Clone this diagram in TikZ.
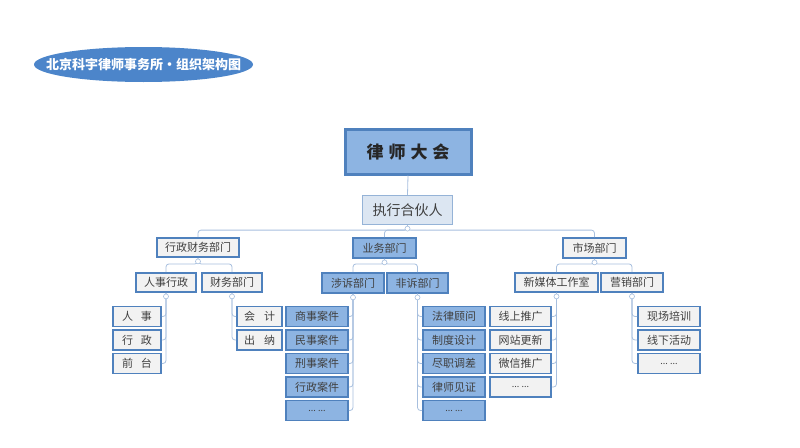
\documentclass[tikz,border=0pt]{standalone}
\usepackage{fontspec}
\setmainfont{Noto Sans CJK SC}
\usetikzlibrary{calc}
\definecolor{bluefill}{HTML}{8DB4E2}
\definecolor{blueline}{HTML}{4F81BD}
\definecolor{grayfill}{HTML}{F2F2F2}
\definecolor{lightfill}{HTML}{DCE6F2}
\definecolor{lightline}{HTML}{95B3D7}
\definecolor{connc}{HTML}{A7BFDE}
\definecolor{titlec}{HTML}{4C85CA}
\definecolor{txt}{HTML}{404040}
\newcommand{\mydots}{{\fontsize{9}{9}\selectfont ...\ ...}}
\begin{document}
\begin{tikzpicture}[x=1pt,y=-1pt,
  box/.style={draw=blueline,line width=1.8pt,inner sep=0pt,text=txt,font=\fontsize{11}{11}\selectfont,anchor=center},
  bbox/.style={box,fill=bluefill},
  gbox/.style={box,fill=grayfill},
  sz/.style 2 args={minimum width=#1,minimum height=#2},
  conn/.style={draw=connc,line width=0.8pt,rounded corners=3pt},
  jdot/.style={circle,draw=connc,fill=white,line width=0.6pt,inner sep=0pt,minimum size=5pt}]
\useasboundingbox (0,0) rectangle (800,447);

% title
\fill[titlec] (143.5,64.5) ellipse [x radius=109.5, y radius=17.5];
\node[text=white,font=\bfseries\fontsize{13}{13}\selectfont] (title) at (143.5,64.5) {北京科宇律师事务所•组织架构图};

% top levels
\node[box,fill=bluefill,line width=3pt,sz={126}{45},text=black!85,font=\bfseries\fontsize{17}{17}\selectfont] (lsdh) at (408,151.5) {律\hspace{5pt}师\hspace{5pt}大\hspace{5pt}会};
\node[box,fill=lightfill,draw=lightline,line width=1.2pt,sz={90}{29},font=\fontsize{14}{14}\selectfont] (zx) at (407.5,210) {执行合伙人};

% level 2
\node[gbox,sz={82}{19}] (xz) at (198,247.5) {行政财务部门};
\node[bbox,sz={63}{20}] (yw) at (384.5,248) {业务部门};
\node[gbox,sz={63}{20}] (sc) at (594.5,248) {市场部门};

% level 3
\node[gbox,sz={60}{19}] (rs) at (166,282.5) {人事行政};
\node[gbox,sz={60}{19}] (cw) at (232,282.5) {财务部门};
\node[bbox,sz={62}{20}] (ss) at (353,283) {涉诉部门};
\node[bbox,sz={61}{20}] (fs) at (417.5,283) {非诉部门};
\node[gbox,sz={83}{19}] (xm) at (556.5,282.5) {新媒体工作室};
\node[gbox,sz={62}{19}] (yx) at (632,282.5) {营销部门};

% connectors upper
\draw[conn] (lsdh.south) -- (zx.north);
\draw[conn] (zx.south) -- ++(0,5) -| (xz.north);
\draw[conn] (zx.south) -- ++(0,5) -| (yw.north);
\draw[conn] (zx.south) -- ++(0,5) -| (sc.north);
\draw[conn] (xz.south) -- ++(0,6) -| (rs.north);
\draw[conn] (xz.south) -- ++(0,6) -| (cw.north);
\draw[conn] (yw.south) -- ++(0,5) -| (ss.north);
\draw[conn] (yw.south) -- ++(0,5) -| (fs.north);
\draw[conn] (sc.south) -- ++(0,5) -| (xm.north);
\draw[conn] (sc.south) -- ++(0,5) -| (yx.north);

% level 4
\foreach \t [count=\i] in {人\hspace{8pt}事,行\hspace{8pt}政,前\hspace{8pt}台} {
  \node[gbox,sz={48}{20}] (a\i) at (137,{293+23.5*\i}) {\t};
  \draw[conn] (rs.south) |- (a\i.east);
}
\foreach \t [count=\i] in {会\hspace{9pt}计,出\hspace{9pt}纳} {
  \node[gbox,sz={45}{20}] (b\i) at (259.5,{293+23.5*\i}) {\t};
  \draw[conn] (cw.south) |- (b\i.west);
}
\foreach \t [count=\i] in {商事案件,民事案件,刑事案件,行政案件,\mydots} {
  \node[bbox,sz={62}{20}] (s\i) at (317,{293+23.5*\i}) {\t};
  \draw[conn] (ss.south) |- (s\i.east);
}
\foreach \t [count=\i] in {法律顾问,制度设计,尽职调差,律师见证,\mydots} {
  \node[bbox,sz={62}{20}] (f\i) at (454,{293+23.5*\i}) {\t};
  \draw[conn] (fs.south) |- (f\i.west);
}
\foreach \t [count=\i] in {线上推广,网站更新,微信推广,\mydots} {
  \node[gbox,sz={61}{20}] (m\i) at (520.5,{293+23.5*\i}) {\t};
  \draw[conn] (xm.south) |- (m\i.east);
}
\foreach \t [count=\i] in {现场培训,线下活动,\mydots} {
  \node[gbox,sz={62}{20}] (y\i) at (669,{293+23.5*\i}) {\t};
  \draw[conn] (yx.south) |- (y\i.west);
}

% junction dots
\foreach \n in {zx,xz,yw,sc,rs,cw,ss,fs,xm,yx} {
  \node[jdot] (d\n) at ($(\n.south)+(0,3.5)$) {};
}
\end{tikzpicture}
\end{document}
